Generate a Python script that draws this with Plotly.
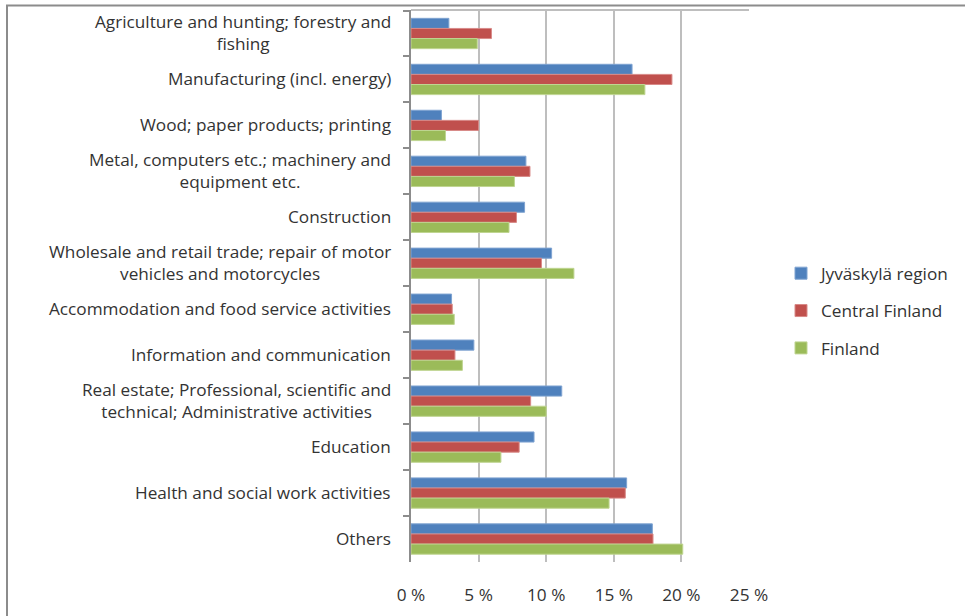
import plotly.graph_objects as go

# Employment share by industry (%), three regions
categories = [
    "Agriculture and hunting; forestry and<br>fishing",
    "Manufacturing (incl. energy)",
    "Wood; paper products; printing",
    "Metal, computers etc.; machinery and<br>equipment etc.",
    "Construction",
    "Wholesale and retail trade; repair of motor<br>vehicles and motorcycles",
    "Accommodation and food service activities",
    "Information and communication",
    "Real estate; Professional, scientific and<br>technical; Administrative activities",
    "Education",
    "Health and social work activities",
    "Others",
]
jyvaskyla_region = [2.8, 16.35, 2.25, 8.5, 8.4, 10.4, 3.0, 4.65, 11.15, 9.1, 15.95, 17.85]
central_finland = [5.95, 19.3, 5.0, 8.8, 7.8, 9.65, 3.05, 3.25, 8.85, 8.0, 15.85, 17.9]
finland = [4.9, 17.3, 2.55, 7.65, 7.25, 12.05, 3.2, 3.8, 10.0, 6.65, 14.65, 20.1]

x_ticks = [0, 5, 10, 15, 20, 25]
x_tick_labels = ["0 %", "5 %", "10 %", "15 %", "20 %", "25 %"]

series = [
    ("Jyväskylä region", jyvaskyla_region, "#4F81BD", "#7FA3D1"),
    ("Central Finland", central_finland, "#C0504D", "#D88A88"),
    ("Finland", finland, "#9BBB59", "#BFD591"),
]

FONT = "Open Sans, Carlito, Calibri, sans-serif"
TEXT = "#333333"
FS = 17.2

fig = go.Figure()
for i, (name, vals, color, edge) in enumerate(series):
    fig.add_trace(go.Bar(
        y=categories, x=vals, name=name, orientation="h",
        marker=dict(color=color, line=dict(color=edge, width=1)),
        legendgroup=f"g{i}",
    ))

# Category labels: right-anchored block, lines centred
for cat in categories:
    fig.add_annotation(
        x=0, xref="paper", xanchor="right", xshift=-18,
        y=cat, yref="y", yanchor="middle", yshift=1,
        text=cat, showarrow=False, align="center",
        font=dict(family=FONT, size=FS, color=TEXT),
    )

L, R, T, B = 411, 216, 10, 54
W, H = 965, 616
pw, ph = W - L - R, H - T - B

def px_x(p):
    return (p - L) / pw

def px_y(p):
    return (H - B - p) / ph

fig.update_layout(
    width=W, height=H,
    margin=dict(l=L, r=R, t=T, b=B),
    paper_bgcolor="white", plot_bgcolor="white",
    barmode="group", bargap=0.34, bargroupgap=0,
    font=dict(family=FONT, size=FS, color=TEXT),
    legend=dict(
        xref="container", yref="container",
        x=781 / W, y=1 - 311 / H, xanchor="left", yanchor="middle",
        traceorder="grouped", tracegroupgap=12,
        itemwidth=30, font=dict(family=FONT, size=FS, color=TEXT),
        bgcolor="rgba(0,0,0,0)",
    ),
    xaxis=dict(
        range=[0, 25], tickmode="array", tickvals=x_ticks, ticktext=x_tick_labels,
        showgrid=True, gridcolor="#BEBEBE", gridwidth=2,
        zeroline=False, showline=False, ticks="",
        ticklabelstandoff=21,
        tickfont=dict(family=FONT, size=FS, color=TEXT),
    ),
    yaxis=dict(
        type="category", autorange="reversed",
        showticklabels=False, showgrid=False, zeroline=False,
        showline=True, linecolor="#8C8C8C", linewidth=1.5,
        ticks="outside", tickson="boundaries", ticklen=6,
        tickcolor="#8C8C8C", tickwidth=1.5,
    ),
    shapes=[
        # top edge of the plot area
        dict(type="line", xref="paper", yref="paper", x0=0, x1=1, y0=1, y1=1,
             line=dict(color="#BEBEBE", width=2), layer="below"),
        # outer chart frame
        dict(type="rect", xref="paper", yref="paper",
             x0=px_x(7), x1=px_x(W + 20), y0=px_y(H + 20), y1=px_y(5.5),
             line=dict(color="#8C8C8C", width=2), fillcolor="rgba(0,0,0,0)"),
    ],
)

fig.write_html("out.html")
